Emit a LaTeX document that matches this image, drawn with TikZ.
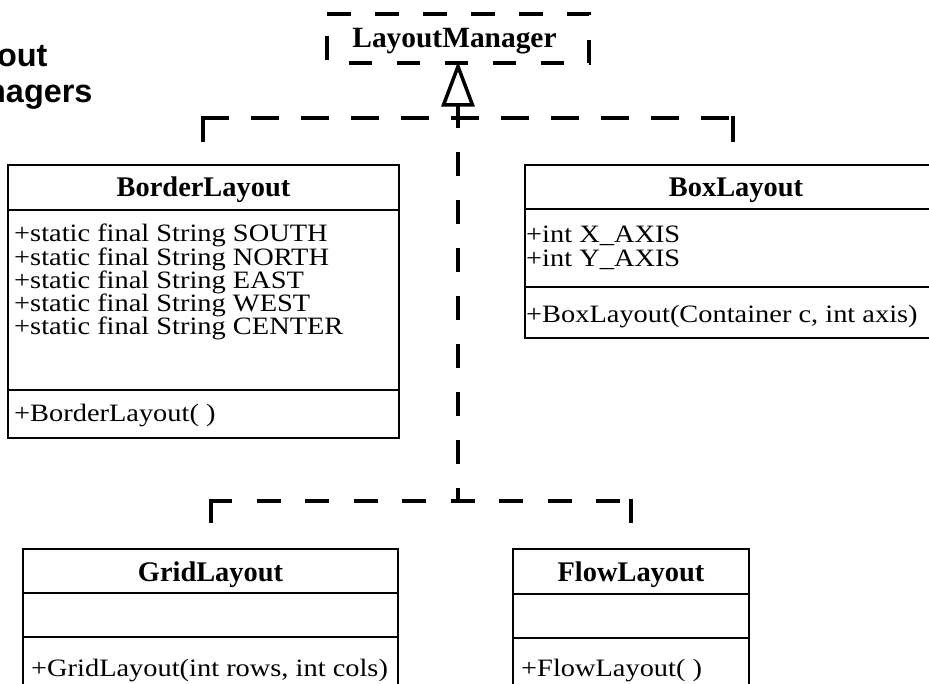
\documentclass[tikz,border=0pt]{standalone}
\usepackage{fontspec}
\setmainfont{Liberation Serif}
\newfontfamily\headfont{Liberation Sans}
\newcommand\memtext[1]{\scalebox{1}[0.88]{#1}}
\begin{document}
\begin{tikzpicture}[x=1pt,y=-1pt,
  classbox/.style={draw=black, line width=1.6pt, rectangle, anchor=north west, inner sep=0pt, outer sep=0pt},
  sepline/.style={line width=1.6pt},
  clsname/.style={font=\bfseries\fontsize{28.4}{28.4}\selectfont, anchor=base, inner sep=0pt},
  member/.style={font=\fontsize{28.4}{28.4}\selectfont, anchor=base west, inner sep=0pt},
  heading/.style={font=\headfont\bfseries\fontsize{32.4}{36}\selectfont, anchor=base west, inner sep=0pt},
  dashline/.style={line width=4pt, line cap=butt},
  tickline/.style={line width=4pt, line cap=butt}]

\path[use as bounding box, clip] (0,0) rectangle (929,684);
\fill[white] (0,0) rectangle (929,684);

% heading (partly outside the frame, as in the reference)
\node[heading] (head1) at (-59,67) {Layout};
\node[heading] (head2) at (-59,103) {Managers};

% LayoutManager interface
\node[inner sep=0pt, outer sep=0pt, minimum width=262pt, minimum height=49pt] (lm) at (458,38.5) {};
\draw[dashline, dash pattern=on 23.5pt off 24.5pt] (lm.north west) -- (lm.north east) -- (lm.south east) -- (lm.south west) -- cycle;
\node[clsname, font=\bfseries\fontsize{29.4}{29.4}\selectfont] (lmname) at (454.5,48) {LayoutManager};

% realization triangle
\coordinate (apex) at (458,66.5);
\coordinate (tribase) at (458,105);
\draw[line width=3.5pt, miter limit=10] (apex) -- (443.5,105) -- (472.5,105) -- cycle;

% BorderLayout
\node[classbox, minimum width=391pt, minimum height=273pt] (border) at (8,165) {};
\draw[sepline] (8,210) -- (399,210);
\draw[sepline] (8,390) -- (399,390);
\node[clsname] (bordername) at (203.5,197) {BorderLayout};
\node[member] (b1) at (14,242) {\memtext{+static final String SOUTH}};
\node[member] (b2) at (14,265.2) {\memtext{+static final String NORTH}};
\node[member] (b3) at (14,288.5) {\memtext{+static final String EAST}};
\node[member] (b4) at (14,311.7) {\memtext{+static final String WEST}};
\node[member] (b5) at (14,335) {\memtext{+static final String CENTER}};
\node[member] (b6) at (14,421) {\memtext{+BorderLayout( )}};

% BoxLayout
\node[classbox, minimum width=420pt, minimum height=173pt] (boxl) at (525,165) {};
\draw[sepline] (525,209) -- (945,209);
\draw[sepline] (525,287) -- (945,287);
\node[clsname] (boxname) at (736,197) {BoxLayout};
\node[member] (x1) at (526,243) {\memtext{+int X\_AXIS}};
\node[member] (x2) at (526,267) {\memtext{+int Y\_AXIS}};
\node[member] (x3) at (526,323) {\memtext{+BoxLayout(Container c, int axis)}};

% GridLayout
\node[classbox, minimum width=375pt, minimum height=170pt] (grid) at (23,549) {};
\draw[sepline] (23,593) -- (398,593);
\draw[sepline] (23,637) -- (398,637);
\node[clsname] (gridname) at (210.5,581.5) {GridLayout};
\node[member] (g1) at (31,676.5) {\memtext{+GridLayout(int rows, int cols)}};

% FlowLayout
\node[classbox, minimum width=236pt, minimum height=170pt] (flow) at (513,549) {};
\draw[sepline] (513,594) -- (749,594);
\draw[sepline] (513,638) -- (749,638);
\node[clsname] (flowname) at (631,581) {FlowLayout};
\node[member] (f1) at (521,676.5) {\memtext{+FlowLayout( )}};

% connectors
\coordinate (upL) at (201,118);
\coordinate (upR) at (735,118);
\coordinate (borderend) at (203,142);
\coordinate (boxend) at (733,142);
\coordinate (junc) at (458,501);
\coordinate (loL) at (209,501);
\coordinate (loR) at (633,501);
\coordinate (gridend) at (211,523);
\coordinate (flowend) at (631,523);

\draw[dashline, dash pattern=on 24pt off 24pt, dash phase=11pt] (junc) -- (tribase);
\draw[dashline, dash pattern=on 28pt off 22pt] (upL) -- (upR);
\draw[tickline] (203,116) -- (borderend);
\draw[tickline] (733,116) -- (boxend);
\draw[dashline, dash pattern=on 24pt off 24.5pt, dash phase=1pt] (loL) -- (loR);
\draw[tickline] (211,499) -- (gridend);
\draw[tickline] (631,499) -- (flowend);
\end{tikzpicture}
\end{document}
